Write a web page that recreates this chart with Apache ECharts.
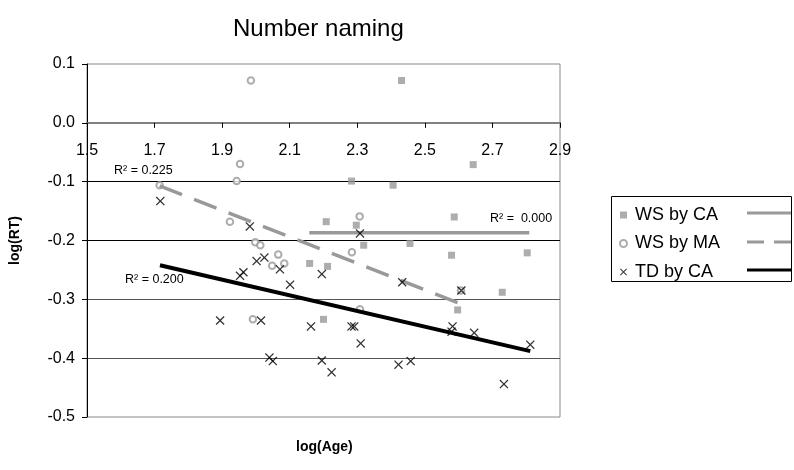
<!DOCTYPE html>
<html>
<head>
<meta charset="utf-8">
<script src="https://cdn.jsdelivr.net/npm/echarts@6/dist/echarts.min.js"></script>
<style>
  html, body { margin: 0; padding: 0; background: #fff; }
  #chart { width: 794px; height: 470px; }
</style>
</head>
<body>
<div id="chart"></div>
<script>
// Log age vs log reaction time, number naming task
const seriesNames = ['WS by CA', 'WS by MA', 'TD by CA'];

// WS by chronological age
const wsCaAge = [2.431, 2.283, 2.406, 2.643, 2.587, 2.456, 2.579, 2.803, 2.208, 2.297, 2.319, 2.159, 2.212, 2.200, 2.729, 2.597];
const wsCaRT  = [0.072, -0.099, -0.106, -0.071, -0.160, -0.205, -0.225, -0.221, -0.168, -0.174, -0.208, -0.239, -0.244, -0.334, -0.288, -0.318];

// WS by mental age
const wsMaAge = [1.985, 1.715, 1.953, 1.943, 1.923, 1.998, 2.013, 2.307, 2.284, 2.066, 2.048, 2.084, 1.991, 2.308, 2.607];
const wsMaRT  = [0.072, -0.106, -0.070, -0.099, -0.168, -0.203, -0.208, -0.159, -0.220, -0.224, -0.243, -0.239, -0.334, -0.317, -0.285];

// Typically developing children by chronological age
const tdCaAge = [1.717, 1.982, 1.953, 1.963, 2.002, 2.025, 2.071, 2.101, 2.195, 2.308, 2.433, 2.608, 1.894, 2.015, 2.163,
                 2.283, 2.291, 2.310, 2.582, 2.579, 2.646, 2.812, 2.040, 2.050, 2.195, 2.224, 2.422, 2.458, 2.734];
const tdCaRT  = [-0.133, -0.176, -0.260, -0.254, -0.235, -0.229, -0.249, -0.275, -0.257, -0.188, -0.271, -0.285, -0.336, -0.336, -0.346,
                 -0.346, -0.346, -0.375, -0.346, -0.355, -0.357, -0.377, -0.399, -0.405, -0.404, -0.424, -0.411, -0.405, -0.444];

// Linear trend lines: end points (age, RT)
const wsCaTrendAge = [2.158, 2.809];
const wsCaTrendRT  = [-0.187, -0.187];
const wsMaTrendAge = [1.715, 2.598];
const wsMaTrendRT  = [-0.107, -0.306];
const tdCaTrendAge = [1.716, 2.812];
const tdCaTrendRT  = [-0.242, -0.388];

// R² annotations for the trend lines
const r2Labels = ['R\u00B2 =  0.000', 'R\u00B2 = 0.225', 'R\u00B2 = 0.200'];

const xRange = [1.5, 2.9], xStep = 0.2;
const yRange = [-0.5, 0.1], yStep = 0.1;

const FONT = '"Liberation Sans", Arial, sans-serif';
const GRAY = '#999999';
const CROSS = 'path://M0,1 L1,0 L5,4 L9,0 L10,1 L6,5 L10,9 L9,10 L5,6 L1,10 L0,9 L4,5 Z';

const GRID = { left: 87, right: 234, top: 64, bottom: 53 };
const PLOT_H = 470 - GRID.top - GRID.bottom;
// lift the x axis from the bottom edge up to RT = 0
const xAxisLift = -PLOT_H * (0 - yRange[0]) / (yRange[1] - yRange[0]);

function pairs(xs, ys) { return xs.map((x, i) => [x, ys[i]]); }

const chart = echarts.init(document.getElementById('chart'), null, { renderer: 'canvas' });

chart.setOption({
  animation: false,
  backgroundColor: '#fff',
  textStyle: { fontFamily: FONT },
  title: [
    { text: 'Number naming', left: 233, top: 17, padding: 0,
      textStyle: { fontFamily: FONT, fontSize: 24, fontWeight: 'normal', color: '#000' } },
    { text: 'log(Age)', left: 296, top: 440, padding: 0,
      textStyle: { fontFamily: FONT, fontSize: 14, fontWeight: 'bold', color: '#000' } }
  ],
  grid: Object.assign({ show: true, borderColor: '#888', borderWidth: 1, backgroundColor: 'transparent' }, GRID),
  xAxis: {
    type: 'value', min: xRange[0], max: xRange[1], interval: xStep,
    position: 'bottom', offset: xAxisLift,
    axisLine: { onZero: false, lineStyle: { color: '#808080', width: 2 } },
    axisTick: { show: true, length: 5, lineStyle: { color: '#000' } },
    axisLabel: { margin: 20, fontSize: 16, color: '#000', fontFamily: FONT, formatter: v => v.toFixed(1) },
    splitLine: { show: false }
  },
  yAxis: {
    type: 'value', min: yRange[0], max: yRange[1], interval: yStep,
    name: 'log(RT)', nameLocation: 'middle', nameGap: 65, nameRotate: 90,
    nameTextStyle: { fontFamily: FONT, fontSize: 14, fontWeight: 'bold', color: '#000' },
    axisLine: { show: true, onZero: false, lineStyle: { color: '#000', width: 1 } },
    axisTick: { show: true, length: 5, lineStyle: { color: '#000' } },
    axisLabel: { margin: 12, fontSize: 16, color: '#000', fontFamily: FONT, formatter: v => v.toFixed(1) },
    splitLine: { show: true, lineStyle: { width: 1,
      color: ['transparent', '#555', '#555', '#000', '#000', '#000', 'transparent'] } }
  },
  legend: {
    orient: 'vertical', left: 619, top: 206, padding: 0,
    itemWidth: 7, itemHeight: 7, itemGap: 10.5,
    selectedMode: false,
    data: seriesNames,
    textStyle: { fontFamily: FONT, fontSize: 18, color: '#000', lineHeight: 18, padding: [0, 0, 0, 3] }
  },
  series: [
    { name: 'WS by MA', type: 'scatter', data: pairs(wsMaAge, wsMaRT), z: 2,
      symbol: 'emptyCircle', symbolSize: 6.5,
      itemStyle: { color: GRAY, borderWidth: 1 } },
    { name: 'WS by CA', type: 'scatter', data: pairs(wsCaAge, wsCaRT), z: 2,
      symbol: 'rect', symbolSize: 7, itemStyle: { color: GRAY } },
    { name: 'WS by CA trend', type: 'line', data: pairs(wsCaTrendAge, wsCaTrendRT), z: 3,
      symbol: 'none', silent: true, lineStyle: { color: GRAY, width: 3.5 } },
    { name: 'WS by MA trend', type: 'line', data: pairs(wsMaTrendAge, wsMaTrendRT), z: 3,
      symbol: 'none', silent: true, lineStyle: { color: GRAY, width: 3.5, type: [24, 13] } },
    { name: 'TD by CA trend', type: 'line', data: pairs(tdCaTrendAge, tdCaTrendRT), z: 3,
      symbol: 'none', silent: true, lineStyle: { color: '#000', width: 4 } },
    { name: 'TD by CA', type: 'scatter', data: pairs(tdCaAge, tdCaRT), z: 4,
      symbol: CROSS, symbolSize: 9, itemStyle: { color: '#000' } }
  ],
  graphic: [
    { type: 'rect', shape: { x: 611.5, y: 196.5, width: 180, height: 85 },
      style: { fill: 'none', stroke: '#000', lineWidth: 1 }, z: 1 },
    { type: 'line', shape: { x1: 747, y1: 213, x2: 791, y2: 213 },
      style: { stroke: GRAY, lineWidth: 3 }, z: 5 },
    { type: 'line', shape: { x1: 747, y1: 242, x2: 791, y2: 242 },
      style: { stroke: GRAY, lineWidth: 3, lineDash: [17, 10] }, z: 5 },
    { type: 'line', shape: { x1: 747, y1: 270, x2: 791, y2: 270 },
      style: { stroke: '#000', lineWidth: 3 }, z: 5 },
    { type: 'text', left: 490, top: 212.5, z: 5,
      style: { text: r2Labels[0], fontFamily: FONT, fontSize: 12.5, fill: '#000' } },
    { type: 'text', left: 114, top: 164, z: 5,
      style: { text: r2Labels[1], fontFamily: FONT, fontSize: 12.5, fill: '#000' } },
    { type: 'text', left: 125, top: 273.5, z: 5,
      style: { text: r2Labels[2], fontFamily: FONT, fontSize: 12.5, fill: '#000' } }
  ]
});
</script>
</body>
</html>
